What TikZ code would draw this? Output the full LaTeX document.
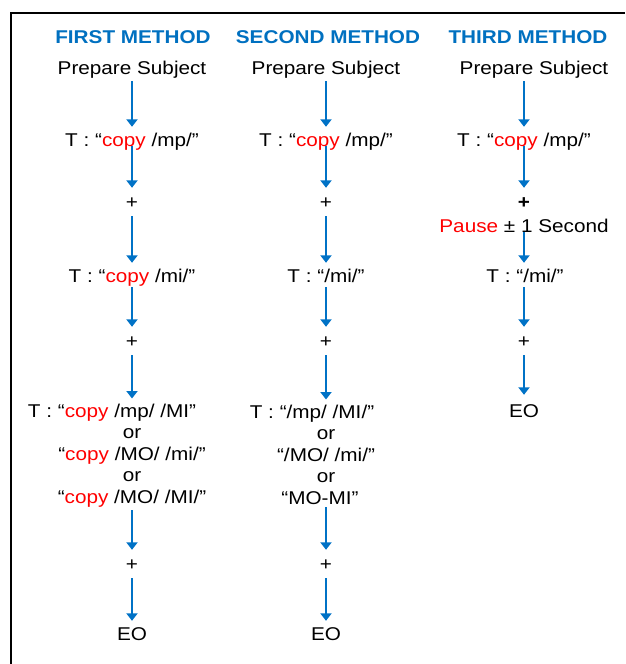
\documentclass[tikz,border=0pt]{standalone}
\usepackage{fontspec}
\setmainfont{Liberation Sans}[FakeStretch=1.12]
\usetikzlibrary{arrows.meta}
\definecolor{hblue}{RGB}{0,112,192}
\definecolor{ablue}{RGB}{0,114,198}
\definecolor{cred}{RGB}{255,0,0}
\newcommand\fsz{\fontsize{18.5pt}{21.5pt}\selectfont}
\newcommand\cp{\textcolor{cred}{copy}}
\tikzset{
  txt/.style={anchor=base, inner sep=0pt, text height=14pt, text depth=4pt, font=\fsz},
  hdr/.style={anchor=base, inner sep=0pt, font=\fsz\bfseries, text=hblue},
  plus/.style={inner sep=0pt, minimum height=20pt, font=\fsz},
  multi/.style={anchor=north, inner sep=0pt, align=center, font=\fsz},
  arr/.style={draw=ablue, line width=2.4pt, -{Triangle[width=11pt,length=7.5pt]}, shorten <=3pt, shorten >=5pt},
  frame/.style={draw=black, line width=1.1pt},
}
\begin{document}
\begin{tikzpicture}[x=1pt, y=-1pt]
\useasboundingbox (0,0) rectangle (625,664);
\draw[frame] (625,13) -- (11,13) -- (11,664);

% headers
\node[hdr] (h1) at (133,43) {FIRST METHOD};
\node[hdr] (h2) at (328,43) {SECOND METHOD};
\node[hdr] (h3) at (528,43) {THIRD METHOD};

% column 1
\node[txt] (ps1) at (132,74) {Prepare Subject};
\node[txt] (t1) at (132,146) {T : “\cp{} /mp/”};
\node[plus] (p1) at (132,203) {+};
\node[txt] (t2) at (132,282) {T : “\cp{} /mi/”};
\node[plus] (p2) at (132,342) {+};
\node[multi] (m1) at (132,403.5) {T : “\cp{} /mp/ /MI”\hspace*{40pt}\\ or\\ “\cp{} /MO/ /mi/”\\ or\\ “\cp{} /MO/ /MI/”};
\node[plus] (p3) at (132,565) {+};
\node[txt] (eo1) at (132,640) {EO};

% column 2
\node[txt] (ps2) at (326,74) {Prepare Subject};
\node[txt] (t21) at (326,146) {T : “\cp{} /mp/”};
\node[plus] (p21) at (326,203) {+};
\node[txt] (t22) at (326,282) {T : “/mi/”};
\node[plus] (p22) at (326,342) {+};
\node[multi] (m2) at (326,404.5) {T : “/mp/ /MI/”\hspace*{28pt}\\ or\\ “/MO/ /mi/”\\ or\\ “MO-MI”\hspace*{12pt}};
\node[plus] (p23) at (326,565) {+};
\node[txt] (eo2) at (326,640) {EO};

% column 3
\node[txt] (ps3) at (534,74) {Prepare Subject};
\node[txt] (t31) at (524,146) {T : “\cp{} /mp/”};
\node[plus, font=\fsz\bfseries] (p31) at (524,203) {+};
\node[txt] (pause) at (524,232) {\textcolor{cred}{Pause} ± 1 Second};
\node[txt] (t32) at (525,282) {T : “/mi/”};
\node[plus] (p32) at (524,342) {+};
\node[txt] (eo3) at (524,417) {EO};

% connectors column 1
\draw[arr] (ps1.south) -- (t1.north);
\draw[arr, shorten <=0pt] (t1.base) -- (p1.north);
\draw[arr] (p1.south) -- (t2.north);
\draw[arr, shorten <=1pt] (t2.south) -- (p2.north);
\draw[arr] (p2.south) -- (m1.north);
\draw[arr] (m1.south) -- (p3.north);
\draw[arr] (p3.south) -- (eo1.north);

% connectors column 2
\draw[arr] (ps2.south) -- (t21.north);
\draw[arr, shorten <=0pt] (t21.base) -- (p21.north);
\draw[arr] (p21.south) -- (t22.north);
\draw[arr, shorten <=1pt] (t22.south) -- (p22.north);
\draw[arr] (p22.south) -- (m2.north);
\draw[arr] (m2.south) -- (p23.north);
\draw[arr] (p23.south) -- (eo2.north);

% connectors column 3
\draw[arr] (ps3.south -| t31.north) -- (t31.north);
\draw[arr, shorten <=0pt] (t31.base) -- (p31.north);
\draw[arr, shorten <=0pt] (pause.base -| p32.north) -- (t32.north -| p32.north);
\draw[arr, shorten <=1pt] (t32.south -| p32.north) -- (p32.north);
\draw[arr, shorten >=8pt] (p32.south) -- (eo3.north);
\end{tikzpicture}
\end{document}
